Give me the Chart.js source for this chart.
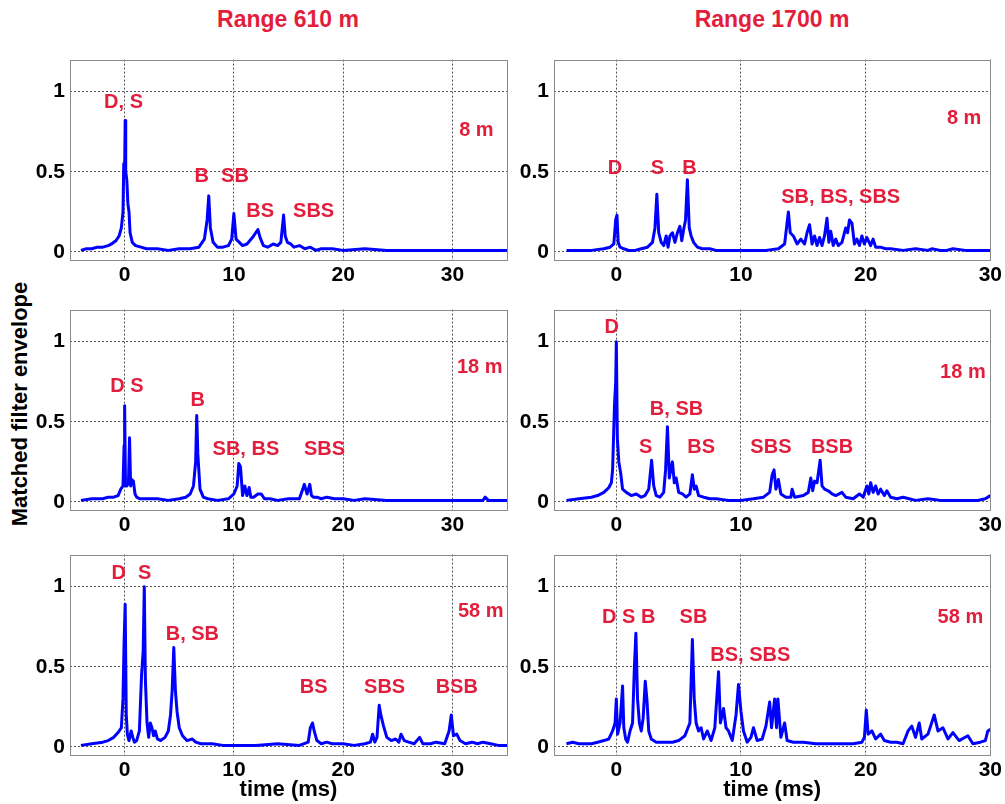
<!DOCTYPE html>
<html>
<head>
<meta charset="utf-8">
<script src="https://cdn.jsdelivr.net/npm/chart.js@4.4.0/dist/chart.umd.min.js"></script>
<style>
  body { margin: 0; background: #fff; }
  #wrap { position: relative; width: 1005px; height: 804px; font-family: Arial, "Liberation Sans", sans-serif; }
  canvas { position: absolute; }
  .title { position: absolute; top: 6px; color: #e31e3c; font-weight: bold; font-size: 23px; transform: translateX(-50%); white-space: nowrap; }
  #ylab { position: absolute; left: 20px; top: 404px; font-weight: bold; font-size: 22px; transform: translate(-50%, -50%) rotate(-90deg); white-space: nowrap; }
</style>
</head>
<body>
<div id="wrap">
  <div class="title" style="left:288px">Range 610 m</div>
  <div class="title" style="left:772px">Range 1700 m</div>
  <div id="ylab">Matched filter envelope</div>
  <canvas id="c610_8" width="510" height="248" style="left:0;top:42px"></canvas>
  <canvas id="c1700_8" width="505" height="248" style="left:500px;top:42px"></canvas>
  <canvas id="c610_18" width="510" height="248" style="left:0;top:292px"></canvas>
  <canvas id="c1700_18" width="505" height="248" style="left:500px;top:292px"></canvas>
  <canvas id="c610_58" width="510" height="266" style="left:0;top:537px"></canvas>
  <canvas id="c1700_58" width="505" height="266" style="left:500px;top:537px"></canvas>
</div>
<script>
// ===== DATA: [time (ms), matched filter envelope] =====

const env610_8 = [[-4,0.01],[-3.5,0.02],[-3,0.02],[-2.5,0.03],[-2,0.03],[-1.5,0.04],[-1.2,0.05],[-0.8,0.07],[-0.5,0.1],
  [-0.3,0.15],[-0.15,0.25],[-0.08,0.55],[0,0.5],[0.05,0.82],[0.1,0.5],[0.2,0.45],[0.3,0.3],[0.4,0.25],[0.5,0.12],
  [0.7,0.06],[1,0.04],[1.5,0.03],[2,0.02],[3,0.02],[4,0.01],[5,0.02],[6,0.02],[6.8,0.03],[7.3,0.08],[7.55,0.2],
  [7.7,0.35],[7.85,0.15],[8.1,0.06],[8.5,0.03],[9,0.03],[9.5,0.04],[9.8,0.08],[10,0.24],[10.2,0.08],[10.5,0.06],
  [10.8,0.04],[11.2,0.05],[11.7,0.09],[12,0.12],[12.2,0.14],[12.4,0.09],[12.7,0.04],[13.1,0.03],[13.6,0.05],
  [14,0.04],[14.3,0.06],[14.55,0.23],[14.7,0.1],[14.9,0.06],[15.2,0.05],[15.5,0.03],[16,0.04],[16.5,0.02],
  [17,0.03],[17.5,0.01],[18,0.02],[19,0.02],[20,0.01],[22,0.02],[24,0.01],[26,0.01],[28,0.01],[30,0.01],[32,0.01],[35,0.01]];

const env610_18 = [[-4,0.01],[-3,0.02],[-2,0.02],[-1.5,0.03],[-1,0.03],[-0.6,0.04],[-0.35,0.08],[-0.15,0.1],
  [-0.05,0.35],[0,0.6],[0.08,0.1],[0.2,0.1],[0.35,0.12],[0.45,0.4],[0.55,0.1],[0.65,0.14],[0.8,0.13],[0.95,0.05],
  [1.1,0.03],[1.4,0.02],[2,0.02],[3,0.02],[4,0.01],[5,0.02],[5.6,0.03],[6,0.05],[6.3,0.1],[6.5,0.25],[6.6,0.54],
  [6.7,0.3],[6.9,0.08],[7.2,0.03],[7.6,0.02],[8.5,0.01],[9.5,0.02],[10,0.05],[10.3,0.1],[10.45,0.24],[10.6,0.22],
  [10.8,0.04],[11,0.1],[11.2,0.04],[11.4,0.09],[11.55,0.03],[11.8,0.03],[12.2,0.05],[12.5,0.05],[12.8,0.02],
  [13.3,0.02],[14,0.01],[15,0.02],[16,0.02],[16.3,0.08],[16.45,0.11],[16.7,0.05],[16.95,0.11],[17.1,0.04],
  [17.3,0.03],[17.6,0.03],[18,0.02],[18.5,0.03],[19.2,0.02],[20,0.02],[21,0.01],[22,0.02],[24,0.01],[26,0.01],
  [28,0.01],[30,0.01],[32,0.01],[32.8,0.01],[33,0.03],[33.3,0.01],[34,0.01],[35,0.01]];

const env610_58 = [[-4,0.01],[-3,0.02],[-2,0.03],[-1.5,0.04],[-1,0.06],[-0.6,0.09],[-0.3,0.12],[-0.15,0.3],
  [-0.05,0.65],[0.05,0.89],[0.15,0.2],[0.25,0.08],[0.4,0.04],[0.6,0.1],[0.75,0.06],[0.9,0.03],[1.1,0.04],[1.35,0.1],
  [1.55,0.45],[1.7,0.6],[1.8,1.0],[1.9,0.42],[2.05,0.15],[2.2,0.06],[2.35,0.15],[2.5,0.12],[2.65,0.07],[2.8,0.1],
  [3,0.05],[3.3,0.04],[3.7,0.06],[4,0.1],[4.2,0.2],[4.35,0.35],[4.5,0.62],[4.65,0.35],[4.8,0.22],[5,0.12],[5.3,0.07],
  [5.7,0.04],[6.2,0.05],[6.5,0.03],[7,0.02],[8,0.02],[9,0.01],[10,0.01],[12,0.01],[14,0.02],[16,0.01],[16.8,0.03],
  [17,0.12],[17.2,0.15],[17.35,0.1],[17.6,0.04],[18,0.02],[18.5,0.03],[19,0.02],[20,0.02],[21,0.01],[22,0.02],
  [22.5,0.03],[22.7,0.08],[22.9,0.03],[23.1,0.06],[23.3,0.26],[23.45,0.2],[23.7,0.13],[24,0.06],[24.4,0.04],
  [24.8,0.05],[25.1,0.03],[25.3,0.08],[25.6,0.04],[26,0.03],[26.5,0.02],[27,0.06],[27.3,0.02],[28,0.02],[28.5,0.03],
  [29.3,0.02],[29.7,0.1],[29.9,0.2],[30.1,0.07],[30.4,0.08],[30.7,0.04],[31.2,0.02],[31.8,0.03],[32.3,0.02],
  [32.8,0.03],[33.5,0.02],[34.2,0.01],[35,0.01]];

const env1700_8 = [[-4,0.01],[-3,0.01],[-2,0.01],[-1,0.02],[-0.5,0.03],[-0.2,0.05],[-0.05,0.2],[0.05,0.23],
  [0.15,0.06],[0.3,0.03],[0.6,0.02],[1,0.01],[1.5,0.01],[2,0.02],[2.5,0.03],[2.9,0.06],[3.1,0.15],[3.25,0.36],
  [3.4,0.12],[3.6,0.06],[3.8,0.04],[4,0.1],[4.15,0.03],[4.3,0.1],[4.5,0.12],[4.7,0.06],[4.9,0.12],[5.1,0.16],
  [5.25,0.07],[5.4,0.14],[5.55,0.2],[5.7,0.45],[5.85,0.15],[6,0.1],[6.2,0.06],[6.5,0.03],[6.9,0.02],[7.5,0.02],
  [8,0.01],[9,0.01],[10,0.01],[11,0.01],[12,0.01],[13,0.02],[13.5,0.05],[13.65,0.15],[13.8,0.25],[13.95,0.12],
  [14.2,0.1],[14.5,0.05],[14.8,0.08],[15.1,0.05],[15.3,0.12],[15.5,0.17],[15.7,0.05],[15.9,0.1],[16.1,0.04],
  [16.3,0.09],[16.5,0.04],[16.7,0.1],[16.9,0.21],[17.05,0.06],[17.2,0.13],[17.4,0.04],[17.6,0.08],[17.8,0.04],
  [18.1,0.06],[18.4,0.15],[18.55,0.12],[18.7,0.2],[18.9,0.18],[19.1,0.05],[19.3,0.08],[19.5,0.04],[19.7,0.1],
  [19.9,0.05],[20.1,0.09],[20.4,0.04],[20.6,0.08],[20.8,0.03],[21.2,0.03],[21.6,0.02],[22,0.02],[23,0.01],
  [24,0.02],[25,0.01],[25.3,0.02],[26,0.01],[26.5,0.01],[27,0.02],[28,0.01],[29,0.01],[30,0.01]];

const env1700_18 = [[-4,0.01],[-3,0.02],[-2,0.03],[-1.5,0.04],[-1,0.06],[-0.6,0.09],[-0.4,0.12],[-0.3,0.2],
  [-0.15,0.6],[-0.05,0.75],[0,1.0],[0.08,0.4],[0.2,0.25],[0.35,0.18],[0.5,0.08],[0.8,0.06],[1.2,0.04],[1.6,0.05],
  [2,0.03],[2.3,0.04],[2.6,0.08],[2.83,0.26],[3,0.1],[3.2,0.04],[3.5,0.03],[3.8,0.06],[3.95,0.2],[4.1,0.47],
  [4.25,0.15],[4.4,0.22],[4.5,0.25],[4.65,0.12],[4.8,0.15],[5,0.06],[5.3,0.05],[5.6,0.03],[5.9,0.05],[6.1,0.17],
  [6.25,0.08],[6.4,0.1],[6.6,0.04],[7,0.03],[7.5,0.02],[8,0.02],[9,0.01],[10,0.01],[11,0.02],[11.8,0.03],
  [12.3,0.06],[12.5,0.17],[12.65,0.2],[12.8,0.08],[13,0.14],[13.2,0.05],[13.6,0.03],[14,0.03],[14.1,0.08],
  [14.3,0.03],[15,0.04],[15.4,0.06],[15.6,0.15],[15.75,0.07],[15.9,0.13],[16.1,0.12],[16.35,0.26],[16.5,0.1],
  [16.7,0.08],[17,0.07],[17.3,0.05],[17.6,0.04],[18.1,0.06],[18.4,0.03],[19,0.02],[19.5,0.05],[19.8,0.03],
  [20.1,0.1],[20.25,0.05],[20.4,0.12],[20.6,0.06],[20.8,0.1],[21,0.05],[21.2,0.08],[21.5,0.04],[21.7,0.07],
  [22,0.03],[22.5,0.02],[23,0.03],[24,0.01],[25,0.02],[26,0.01],[27,0.01],[28,0.01],[29,0.01],[29.6,0.02],[30,0.04]];

const env1700_58 = [[-4,0.02],[-3.5,0.03],[-3,0.02],[-2.5,0.02],[-2,0.02],[-1.5,0.03],[-1,0.04],[-0.6,0.05],
  [-0.3,0.1],[-0.1,0.15],[0,0.3],[0.1,0.08],[0.3,0.15],[0.5,0.38],[0.6,0.12],[0.75,0.05],[0.9,0.03],[1.1,0.1],
  [1.3,0.15],[1.45,0.5],[1.57,0.71],[1.7,0.3],[1.85,0.15],[2,0.1],[2.15,0.18],[2.32,0.41],[2.45,0.3],[2.6,0.1],
  [2.8,0.05],[3.2,0.03],[4,0.03],[4.5,0.03],[5,0.04],[5.5,0.07],[5.9,0.15],[6.1,0.67],[6.25,0.3],[6.4,0.15],
  [6.6,0.1],[6.8,0.12],[7,0.05],[7.3,0.1],[7.6,0.04],[7.9,0.12],[8.2,0.47],[8.35,0.15],[8.6,0.24],[8.8,0.12],
  [9,0.1],[9.3,0.04],[9.6,0.2],[9.8,0.39],[10,0.22],[10.2,0.1],[10.5,0.03],[10.8,0.06],[11,0.12],[11.3,0.04],
  [11.7,0.05],[12,0.13],[12.3,0.28],[12.45,0.12],[12.7,0.3],[12.85,0.12],[12.96,0.3],[13.2,0.06],[13.5,0.15],
  [13.7,0.04],[14.2,0.03],[15,0.03],[16,0.02],[17,0.02],[18,0.02],[19,0.02],[19.7,0.03],[19.9,0.06],[20.05,0.23],
  [20.2,0.08],[20.5,0.1],[20.8,0.05],[21.2,0.08],[21.5,0.04],[22,0.03],[22.5,0.03],[23,0.02],[23.4,0.1],[23.7,0.13],
  [24,0.06],[24.3,0.15],[24.5,0.05],[25,0.08],[25.5,0.2],[25.8,0.1],[26.2,0.12],[26.6,0.05],[27,0.09],[27.5,0.04],
  [28.2,0.07],[28.6,0.02],[29.2,0.03],[29.6,0.04],[29.8,0.1],[30,0.11]];

// arrival labels: [text, time, level]
const labels610_8 = [["D, S", -0.1, 0.93], ["B", 7.05, 0.47], ["SB", 10.1, 0.47], ["BS", 12.4, 0.25], ["SBS", 17.3, 0.25], ["8 m", 32.2, 0.76]];
const labels610_18 = [["D S", 0.2, 0.72], ["B", 6.7, 0.63], ["SB, BS", 11.1, 0.33], ["SBS", 18.3, 0.33], ["18 m", 32.5, 0.84]];
const labels610_58 = [["D", -0.55, 1.085], ["S", 1.83, 1.085], ["B, SB", 6.2, 0.7], ["BS", 17.3, 0.37], ["SBS", 23.8, 0.37], ["BSB", 30.4, 0.37], ["58 m", 32.6, 0.845]];
const labels1700_8 = [["D", -0.1, 0.52], ["S", 3.3, 0.52], ["B", 5.87, 0.52], ["SB, BS, SBS", 18.0, 0.34], ["8 m", 27.9, 0.83]];
const labels1700_18 = [["D", -0.37, 1.09], ["S", 2.35, 0.34], ["B, SB", 4.83, 0.58], ["BS", 6.8, 0.34], ["SBS", 12.4, 0.34], ["BSB", 17.3, 0.34], ["18 m", 27.8, 0.81]];
const labels1700_58 = [["D S B", 0.99, 0.81], ["SB", 6.19, 0.81], ["BS, SBS", 10.75, 0.57], ["58 m", 27.6, 0.81]];

const xTicks = [0, 10, 20, 30];
const yTicks = [0, 0.5, 1];

// ===== PLUGINS =====

const peakLabels = {
  id: "peakLabels",
  afterDatasetsDraw(chart, args, opts) {
    const {ctx, scales} = chart;
    ctx.save();
    ctx.fillStyle = "#e31e3c";
    ctx.font = "bold 20px Arial, 'Liberation Sans', sans-serif";
    ctx.textAlign = "center";
    ctx.textBaseline = "middle";
    (opts.items || []).forEach(l => {
      ctx.fillText(l[0], scales.x.getPixelForValue(l[1]), scales.y.getPixelForValue(l[2]));
    });
    ctx.restore();
  }
};

const frameBox = {
  id: "frameBox",
  afterDraw(chart) {
    const a = chart.chartArea;
    const ctx = chart.ctx;
    ctx.save();
    ctx.strokeStyle = "#8a8a8a";
    ctx.lineWidth = 1;
    ctx.strokeRect(Math.round(a.left) + 0.5, Math.round(a.top) + 0.5, Math.round(a.right - a.left), Math.round(a.bottom - a.top));
    ctx.restore();
  }
};

// ===== PANELS =====

function drawPanel(id, series, labels, xMax, yWidth, padRight, xHeight, showTitle) {
  const ctx = document.getElementById(id).getContext("2d");
  const tickFont = { size: 21, weight: "bold", family: "Arial, 'Liberation Sans', sans-serif" };
  return new Chart(ctx, {
    type: "line",
    data: {
      datasets: [{
        data: series.map(p => ({ x: p[0], y: p[1] })),
        borderColor: "#0000ff",
        borderWidth: 3,
        borderJoinStyle: "round",
        pointRadius: 0,
        tension: 0,
        fill: false
      }]
    },
    options: {
      responsive: false,
      animation: false,
      layout: { padding: { top: 8, right: padRight, left: 0, bottom: 0 } },
      plugins: {
        legend: { display: false },
        tooltip: { enabled: false },
        peakLabels: { items: labels }
      },
      scales: {
        x: {
          type: "linear",
          min: -5,
          max: xMax,
          afterBuildTicks: s => { s.ticks = xTicks.map(v => ({ value: v })); },
          afterFit: s => { s.height = xHeight; },
          grid: { color: "#555", lineWidth: 1, drawTicks: false },
          border: { display: false, dash: [2, 2] },
          ticks: { color: "#000", font: tickFont, padding: 3, maxRotation: 0, callback: v => String(v) },
          title: {
            display: showTitle,
            text: "time (ms)",
            color: "#000",
            font: { size: 22, weight: "bold", family: "Arial, 'Liberation Sans', sans-serif" },
            padding: { top: 0, bottom: 0 }
          }
        },
        y: {
          min: -0.05,
          max: 1.2,
          afterBuildTicks: s => { s.ticks = yTicks.map(v => ({ value: v })); },
          afterFit: s => { s.width = yWidth; },
          grid: { color: "#555", lineWidth: 1, drawTicks: false },
          border: { display: false, dash: [2, 2] },
          ticks: { color: "#000", font: tickFont, padding: 5, callback: v => String(v) }
        }
      }
    },
    plugins: [peakLabels, frameBox]
  });
}

drawPanel("c610_8", env610_8, labels610_8, 35, 70, 3, 30, false);
drawPanel("c1700_8", env1700_8, labels1700_8, 30, 54, 14, 30, false);
drawPanel("c610_18", env610_18, labels610_18, 35, 70, 3, 30, false);
drawPanel("c1700_18", env1700_18, labels1700_18, 30, 54, 14, 30, false);
drawPanel("c610_58", env610_58, labels610_58, 35, 70, 3, 48, true);
drawPanel("c1700_58", env1700_58, labels1700_58, 30, 54, 14, 48, true);
</script>
</body>
</html>
